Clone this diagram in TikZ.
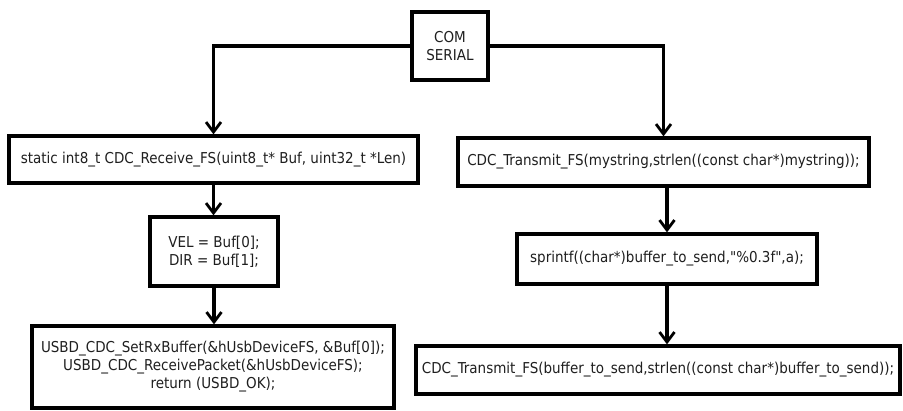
\documentclass[tikz,border=0pt]{standalone}
\usepackage{fontspec}
\setmainfont{DejaVu Sans Condensed}[Ligatures=TeXOff]
\usetikzlibrary{arrows.meta}
\begin{document}
\begin{tikzpicture}[x=1pt,y=-1pt,
  box/.style={draw=black, line width=3.2pt, fill=white, inner sep=0pt,
    align=center, text=black!88, font=\fontsize{15}{18}\selectfont},
  flow/.style={line width=3.2pt, -{Straight Barb[length=10pt,width=15pt,line width=2.8pt]}}]
\useasboundingbox (0,0) rectangle (903,411);
% entry point
\node[box, minimum width=76pt, minimum height=68pt] (com) at (450,46) {COM\\SERIAL};
% receive path
\node[box, minimum width=409pt, minimum height=47pt] (l1) at (213.5,159.5)
  {static int8\_t CDC\_Receive\_FS(uint8\_t* Buf, uint32\_t *Len)};
\node[box, minimum width=128pt, minimum height=69pt] (l2) at (214,251.5)
  {VEL = Buf[0];\\DIR = Buf[1];};
\node[box, minimum width=362pt, minimum height=82pt] (l3) at (213,367)
  {USBD\_CDC\_SetRxBuffer(\&hUsbDeviceFS, \&Buf[0]);\\
   USBD\_CDC\_ReceivePacket(\&hUsbDeviceFS);\\
   return (USBD\_OK);};
% transmit path
\node[box, minimum width=411pt, minimum height=48pt] (r1) at (663.5,162)
  {CDC\_Transmit\_FS(mystring,strlen((const char*)mystring));};
\node[box, minimum width=300pt, minimum height=50pt] (r2) at (667,259)
  {sprintf((char*)buffer\_to\_send,"\%0.3f",a);};
\node[box, minimum width=484pt, minimum height=48pt] (r3) at (658,370)
  {CDC\_Transmit\_FS(buffer\_to\_send,strlen((const char*)buffer\_to\_send));};
% connectors
\draw[flow] (com.west) -| (l1.north);
\draw[flow] (com.east) -| (r1.north);
\draw[flow] (l1.south) -- (l1.south |- l2.north);
\draw[flow] (l2.south) -- (l2.south |- l3.north);
\draw[flow] (r2.north |- r1.south) -- (r2.north);
\draw[flow] (r2.south) -- (r2.south |- r3.north);
\end{tikzpicture}
\end{document}
